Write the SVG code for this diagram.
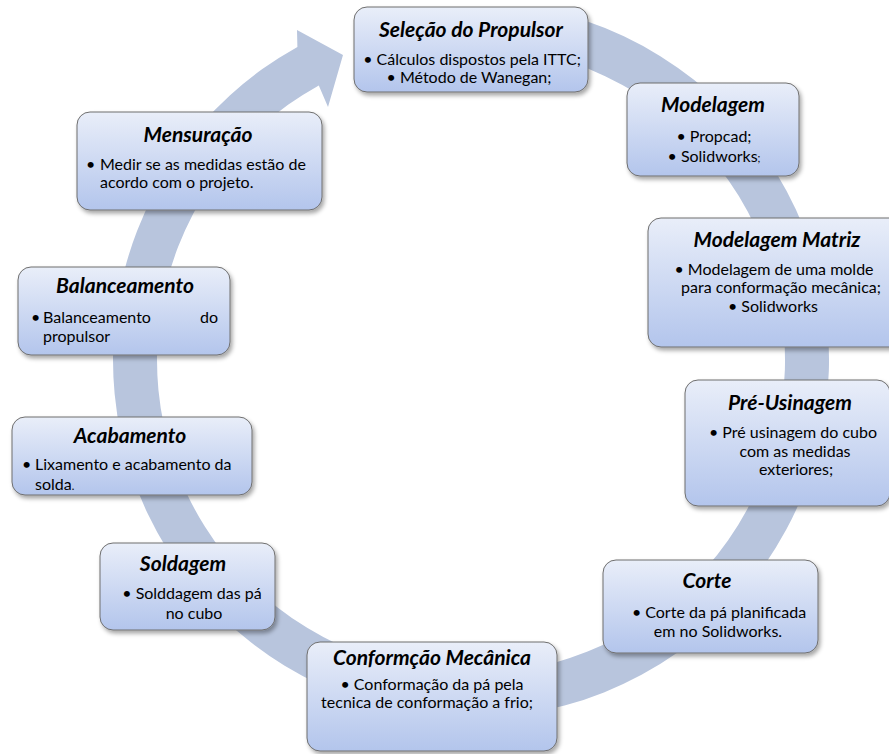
<svg xmlns="http://www.w3.org/2000/svg" width="889" height="754" viewBox="0 0 889 754">
<defs>
<linearGradient id="boxGrad" x1="0" y1="0" x2="0" y2="1">
<stop offset="0" stop-color="#e9eef9"/>
<stop offset="1" stop-color="#b3c5ec"/>
</linearGradient>
<filter id="shadow" x="-10%" y="-10%" width="125%" height="130%">
<feDropShadow dx="2" dy="3" stdDeviation="2" flood-color="#000" flood-opacity="0.35"/>
</filter>
<style>
.box{fill:url(#boxGrad);stroke:#6f6f6f;stroke-width:1;filter:url(#shadow);}
.t{font-family:Lato,"Liberation Sans",sans-serif;font-weight:bold;font-style:italic;font-size:21px;fill:#000;text-anchor:middle;}
.b{font-family:Lato,"Liberation Sans",sans-serif;font-size:16px;fill:#000;}
.c{text-anchor:middle;}
.band{fill:#b8c5dd;}
</style>
</defs>
<rect width="889" height="754" fill="#fff"/>
<g id="connectors">
<path class="band" d="M 545.4 9.8 A 358 358 0 1 1 297.4 46.9 L 297 30 L 343 55 L 328 107 L 318.8 85.4 A 314 314 0 1 0 536.3 52.9 Z"/>
</g>
<g id="node1">
<rect class="box" x="354" y="7" width="234" height="85" rx="13"/>
<text class="t" x="471" y="37">Seleção do Propulsor</text>
<text class="b c" x="472" y="65">• Cálculos dispostos pela ITTC;</text>
<text class="b c" x="469" y="83">• Método de Wanegan;</text>
</g>
<g id="node2">
<rect class="box" x="627" y="83" width="172" height="93" rx="13"/>
<text class="t" x="713" y="112">Modelagem</text>
<text class="b c" x="714" y="142">• Propcad;</text>
<text class="b c" x="714" y="162">• Solidworks<tspan font-size="11">;</tspan></text>
</g>
<g id="node3">
<rect class="box" x="648" y="218" width="258" height="129" rx="13"/>
<text class="t" x="777" y="247">Modelagem Matriz</text>
<text class="b c" x="774" y="275">• Modelagem de uma molde</text>
<text class="b c" x="781" y="293">para conformação mecânica;</text>
<text class="b c" x="773" y="312">• Solidworks</text>
</g>
<g id="node4">
<rect class="box" x="685" y="380" width="205" height="126" rx="13"/>
<text class="t" x="790" y="410">Pré-Usinagem</text>
<text class="b c" x="793" y="438">• Pré usinagem do cubo</text>
<text class="b c" x="795" y="457">com as medidas</text>
<text class="b c" x="796" y="475">exteriores;</text>
</g>
<g id="node5">
<rect class="box" x="603" y="560" width="215" height="93" rx="13"/>
<text class="t" x="707" y="588">Corte</text>
<text class="b c" x="719" y="618">• Corte da pá planificada</text>
<text class="b c" x="718" y="637">em no Solidworks.</text>
</g>
<g id="node6">
<rect class="box" x="307" y="642" width="250" height="109" rx="13"/>
<text class="t" x="432" y="665">Conformção Mecânica</text>
<text class="b c" x="432" y="690">• Conformação da pá pela</text>
<text class="b c" x="427" y="708">tecnica de conformação a frio;</text>
</g>
<g id="node7">
<rect class="box" x="100" y="543" width="175" height="87" rx="13"/>
<text class="t" x="183" y="571">Soldagem</text>
<text class="b c" x="192" y="599">• Solddagem das pá</text>
<text class="b c" x="194" y="619">no cubo</text>
</g>
<g id="node8">
<rect class="box" x="12" y="417" width="240" height="78" rx="13"/>
<text class="t" x="130" y="443">Acabamento</text>
<text class="b" x="22" y="470">•</text>
<text class="b" x="35" y="470">Lixamento e acabamento da</text>
<text class="b" x="35" y="490">solda<tspan font-size="11">.</tspan></text>
</g>
<g id="node9">
<rect class="box" x="18" y="267" width="212" height="88" rx="13"/>
<text class="t" x="125" y="293">Balanceamento</text>
<text class="b" x="31" y="323">•</text>
<text class="b" x="43" y="323">Balanceamento</text>
<text class="b" x="218" y="323" text-anchor="end">do</text>
<text class="b" x="43" y="342">propulsor</text>
</g>
<g id="node10">
<rect class="box" x="77" y="112" width="245" height="98" rx="13"/>
<text class="t" x="198" y="142">Mensuração</text>
<text class="b" x="86" y="170">•</text>
<text class="b" x="100" y="170">Medir se as medidas estão de</text>
<text class="b" x="100" y="188">acordo com o projeto.</text>
</g>
</svg>
